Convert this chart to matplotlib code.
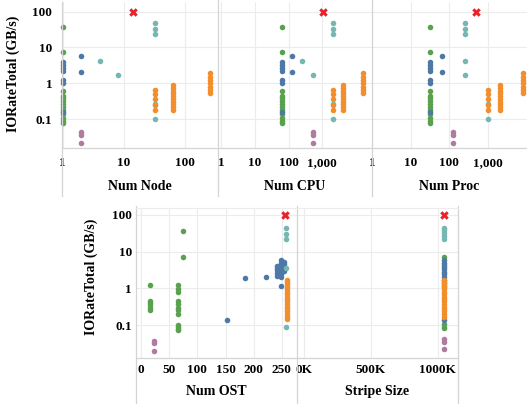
# IO rate vs. job layout, 5 small-multiple panels
import matplotlib
matplotlib.use("Agg")
from matplotlib import pyplot as plt
from matplotlib.lines import Line2D
from matplotlib.ticker import FixedLocator, NullLocator

plt.rcParams['font.family'] = ['Liberation Serif', 'DejaVu Serif']
plt.rcParams['font.weight'] = 'bold'

COLORS = {
    'blue': '#4e79a7',
    'orange': '#f28e2b',
    'teal': '#76b7b2',
    'green': '#59a14f',
    'purple': '#b07aa1',
    'red': '#e8222a',
}

# each column: (x value, group, IORateTotal values in GB/s)
node_cols = [
    (1, 'green', [38, 7.6, 0.6, 0.45, 0.38, 0.32, 0.27, 0.22, 0.18, 0.14, 0.11, 0.09, 0.08]),
    (1, 'blue', [4.0, 3.3, 2.7, 2.2, 1.2, 1.0, 0.16]),
    (2, 'blue', [5.6, 2.1]),
    (2, 'purple', [0.043, 0.035, 0.022]),
    (4, 'teal', [4.1]),
    (8, 'teal', [1.7]),
    (14, 'red', [100]),
    (32, 'teal', [47, 33, 24, 0.27, 0.1]),
    (32, 'orange', [0.65, 0.5, 0.36, 0.25, 0.18]),
    (64, 'orange', [0.9, 0.75, 0.62, 0.52, 0.44, 0.37, 0.31, 0.26, 0.22, 0.18]),
    (256, 'orange', [1.9, 1.5, 1.2, 1.0, 0.8, 0.65, 0.52]),
]

cpu_cols = [
    (64, 'green', [38, 7.6, 0.6, 0.45, 0.38, 0.32, 0.27, 0.22, 0.18, 0.14, 0.11, 0.09, 0.08]),
    (64, 'blue', [4.0, 3.3, 2.7, 2.2, 1.2, 1.0, 0.16]),
    (128, 'blue', [5.6, 2.1]),
    (256, 'teal', [4.1]),
    (512, 'teal', [1.7]),
    (512, 'purple', [0.043, 0.035, 0.022]),
    (1024, 'red', [100]),
    (2048, 'teal', [47, 33, 24, 0.27, 0.1]),
    (2048, 'orange', [0.65, 0.5, 0.36, 0.25, 0.18]),
    (4096, 'orange', [0.9, 0.75, 0.62, 0.52, 0.44, 0.37, 0.31, 0.26, 0.22, 0.18]),
    (16384, 'orange', [1.9, 1.5, 1.2, 1.0, 0.8, 0.65, 0.52]),
]

proc_cols = [
    (32, 'green', [38, 7.6, 0.6, 0.45, 0.38, 0.32, 0.27, 0.22, 0.18, 0.14, 0.11, 0.09, 0.08]),
    (32, 'blue', [4.0, 3.3, 2.7, 2.2, 1.2, 1.0, 0.16]),
    (64, 'blue', [5.6, 2.1]),
    (128, 'purple', [0.043, 0.035, 0.022]),
    (256, 'teal', [47, 33, 24, 4.1, 1.7]),
    (512, 'red', [100]),
    (1024, 'teal', [0.27, 0.1]),
    (1024, 'orange', [0.65, 0.5, 0.36, 0.25, 0.18]),
    (2048, 'orange', [0.9, 0.75, 0.62, 0.52, 0.44, 0.37, 0.31, 0.26, 0.22, 0.18]),
    (8192, 'orange', [1.9, 1.5, 1.2, 1.0, 0.8, 0.65, 0.52]),
]

ost_cols = [
    (16, 'green', [1.2, 0.46, 0.4, 0.35, 0.3, 0.26]),
    (23, 'purple', [0.038, 0.032, 0.02]),
    (65, 'green', [1.2, 0.95, 0.8, 0.45, 0.38, 0.3, 0.25, 0.2, 0.1, 0.09, 0.08, 0.075]),
    (74, 'green', [36, 7.3]),
    (152, 'blue', [0.14]),
    (185, 'blue', [1.95]),
    (222, 'blue', [2.1]),
    (242, 'blue', [4.2, 3.6, 3.1, 2.6, 2.2]),
    (248, 'blue', [5.8, 5.0, 4.4, 3.8, 3.3, 2.8, 2.4, 2.0, 1.15]),
    (254, 'blue', [5.4, 4.6, 3.9, 3.4, 2.9]),
    (255, 'red', [100]),
    (258, 'teal', [43, 30, 22, 3.6, 0.09]),
    (260, 'orange', [1.7, 1.5, 1.3, 1.1, 0.95, 0.82, 0.7, 0.6, 0.52, 0.45, 0.38, 0.32,
                     0.28, 0.24, 0.2, 0.17, 0.15]),
]

stripe_cols = [
    (1048576, 'teal', [45, 38, 32, 27, 22, 0.09]),
    (1048576, 'green', [7.3, 0.11, 0.085]),
    (1048576, 'blue', [5.8, 5.0, 4.4, 3.8, 3.3, 2.8, 2.4, 2.0, 1.7, 1.4, 1.15, 0.14]),
    (1048576, 'orange', [1.7, 1.5, 1.3, 1.1, 0.95, 0.82, 0.7, 0.6, 0.52, 0.45, 0.38, 0.32,
                         0.28, 0.24, 0.2, 0.17]),
    (1048576, 'purple', [0.043, 0.034, 0.022]),
    (1048576, 'red', [100]),
]

W, H = 527, 404
fig = plt.figure(figsize=(W / 100, H / 100), dpi=100)
fig.patch.set_facecolor('white')

GRID = '#ececec'
EDGE = '#d4d4d4'
TICK_FS = 9.5
LABEL_FS = 10


def px_axes(x0, y0, x1, y1):
    # pixel box (top-left origin) -> axes
    return fig.add_axes([x0 / W, 1 - y1 / H, (x1 - x0) / W, (y1 - y0) / H])


def draw(ax, cols, xlim, ylim, xticks, xticklabels, xlabel, xlog=True,
         show_y=False, ypad=6, xpad=4, labelpad=2):
    for x, grp, ys in cols:
        if grp == 'red':
            ax.scatter([x] * len(ys), ys, s=38, marker='X', c=COLORS[grp],
                       linewidths=0, zorder=5, clip_on=False)
        else:
            ax.scatter([x] * len(ys), ys, s=16, marker='o', c=COLORS[grp],
                       linewidths=0, zorder=3, clip_on=False)
    if xlog:
        ax.set_xscale('log')
    ax.set_yscale('log')
    ax.set_xlim(xlim)
    ax.set_ylim(ylim)
    ax.xaxis.set_major_locator(FixedLocator(xticks))
    ax.xaxis.set_minor_locator(NullLocator())
    ax.set_xticklabels(xticklabels)
    ax.yaxis.set_major_locator(FixedLocator([0.1, 1, 10, 100]))
    ax.yaxis.set_minor_locator(NullLocator())
    if show_y:
        ax.set_yticklabels(['0.1', '1', '10', '100'])
    else:
        ax.set_yticklabels([])
    ax.tick_params(axis='x', length=0, labelsize=TICK_FS, pad=xpad)
    ax.tick_params(axis='y', length=0, labelsize=TICK_FS, pad=ypad)
    for lab in ax.get_xticklabels() + ax.get_yticklabels():
        lab.set_fontweight('bold')
    ax.grid(True, color=GRID, linewidth=0.8)
    ax.set_axisbelow(True)
    for side in ('top', 'right', 'left'):
        ax.spines[side].set_visible(False)
    ax.spines['bottom'].set_color(EDGE)
    ax.spines['bottom'].set_linewidth(0.9)
    ax.set_xlabel(xlabel, fontsize=LABEL_FS, fontweight='bold', labelpad=labelpad)


# top row
top = dict(xpad=6.5, labelpad=8)
ax1 = px_axes(62, 2, 218, 148)
draw(ax1, node_cols, (0.97, 350), (0.0156, 186), [1, 10, 100], ['1', '10', '100'],
     'Num Node', show_y=True, ypad=7, **top)
ax2 = px_axes(218, 2, 372, 148)
draw(ax2, cpu_cols, (0.815, 29500), (0.0156, 186), [1, 10, 100, 1000],
     ['1', '10', '100', '1,000'], 'Num CPU', **top)
ax3 = px_axes(372, 2, 527, 148)
draw(ax3, proc_cols, (1.0, 10500), (0.0156, 186), [1, 10, 100, 1000],
     ['1', '10', '100', '1,000'], 'Num Proc', **top)

# bottom row
bottom = dict(xpad=4, labelpad=6.5)
ax4 = px_axes(136, 208, 297, 358)
draw(ax4, ost_cols, (-9, 277), (0.0127, 155), [0, 50, 100, 150, 200, 250],
     ['0', '50', '100', '150', '200', '250'], 'Num OST', xlog=False,
     show_y=True, ypad=3, **bottom)
ax5 = px_axes(297, 208, 458, 358)
draw(ax5, stripe_cols, (-50000, 1150000), (0.0127, 155), [0, 500000, 1000000],
     ['0K', '500K', '1000K'], 'Stripe Size', xlog=False, **bottom)

# y axis titles
fig.text(13 / W, 1 - 74 / H, 'IORateTotal (GB/s)', rotation=90, ha='center',
         va='center', fontsize=LABEL_FS, fontweight='bold')
fig.text(91 / W, 1 - 277 / H, 'IORateTotal (GB/s)', rotation=90, ha='center',
         va='center', fontsize=LABEL_FS, fontweight='bold')

# pane borders running through the header area
for x, y0, y1 in [(62, 2, 196), (218, 0, 196), (372, 0, 196),
                  (136, 206, 404), (297, 206, 404), (458, 206, 404)]:
    fig.add_artist(Line2D([x / W, x / W], [1 - y0 / H, 1 - y1 / H],
                          color=EDGE, linewidth=0.9, transform=fig.transFigure))
fig.add_artist(Line2D([136 / W, 458 / W], [1 - 208 / H, 1 - 208 / H],
                      color=GRID, linewidth=0.8, transform=fig.transFigure))

fig.savefig('out.png', dpi=100, facecolor='white')
